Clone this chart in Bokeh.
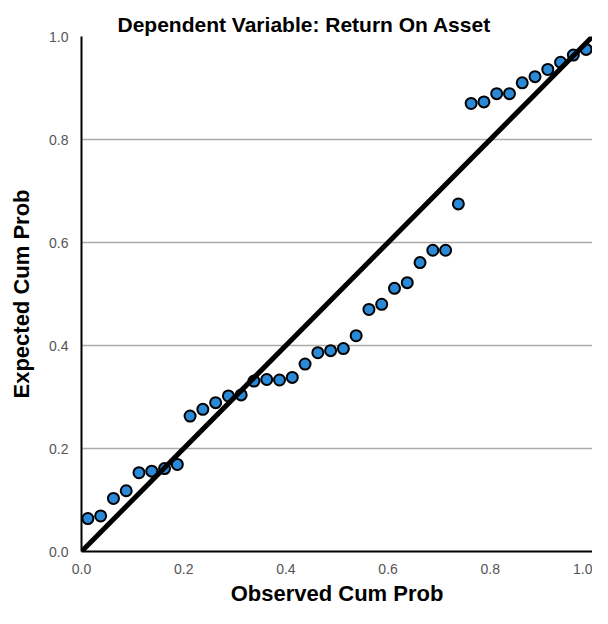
from bokeh.plotting import figure
from bokeh.models import FixedTicker, PrintfTickFormatter, Range1d, ColumnDataSource
from bokeh.embed import file_html
from bokeh.resources import INLINE

title_text = "Dependent Variable: Return On Asset"
x_label = "Observed Cum Prob"
y_label = "Expected Cum Prob"
tick_values = [0.0, 0.2, 0.4, 0.6, 0.8, 1.0]

observed_cum_prob = [
    0.0125, 0.0375, 0.0625, 0.0875, 0.1125, 0.1375, 0.1625, 0.1875,
    0.2125, 0.2375, 0.2625, 0.2875, 0.3125, 0.3375, 0.3625, 0.3875,
    0.4125, 0.4375, 0.4625, 0.4875, 0.5125, 0.5375, 0.5625, 0.5875,
    0.6125, 0.6375, 0.6625, 0.6875, 0.7125, 0.7375, 0.7625, 0.7875,
    0.8125, 0.8375, 0.8625, 0.8875, 0.9125, 0.9375, 0.9625, 0.9875,
]
expected_cum_prob = [
    0.064, 0.069, 0.103, 0.118, 0.153, 0.156, 0.161, 0.169,
    0.263, 0.276, 0.289, 0.302, 0.304, 0.331, 0.334, 0.333,
    0.338, 0.364, 0.386, 0.390, 0.394, 0.419, 0.470, 0.480,
    0.511, 0.522, 0.561, 0.585, 0.585, 0.675, 0.870, 0.873,
    0.889, 0.889, 0.910, 0.922, 0.936, 0.950, 0.964, 0.975,
]
diag_x = [0.0, 1.0]
diag_y = [0.0, 1.0]

FONT = "Liberation Sans"

p = figure(
    width=592, height=608,
    x_range=Range1d(0, 1), y_range=Range1d(0, 1),
    output_backend="svg", toolbar_location=None,
    min_border_left=81, min_border_right=0,
    min_border_top=36, min_border_bottom=57,
    title=title_text,
)
p.outline_line_color = None
p.background_fill_color = "white"
p.border_fill_color = "white"

p.title.text_font = FONT
p.title.text_font_size = "21px"
p.title.text_font_style = "bold"
p.title.text_color = "black"
p.title.align = "left"
p.title.offset = 36
p.title.standoff = 2

for ax in (p.xaxis[0], p.yaxis[0]):
    ax.ticker = FixedTicker(ticks=tick_values)
    ax.formatter = PrintfTickFormatter(format="%.1f")
    ax.major_tick_line_color = None
    ax.minor_tick_line_color = None
    ax.axis_line_color = "black"
    ax.axis_line_width = 2
    ax.major_label_text_font = FONT
    ax.major_label_text_font_size = "14px"
    ax.major_label_text_color = "#555555"
    ax.axis_label_text_font = FONT
    ax.axis_label_text_font_size = "22px"
    ax.axis_label_text_font_style = "bold"
    ax.axis_label_text_color = "black"

p.xaxis.axis_label = x_label
p.yaxis.axis_label = y_label
p.xaxis.major_label_standoff = 6
p.yaxis.major_label_standoff = 7
p.xaxis.axis_label_standoff = 4
p.yaxis.axis_label_standoff = 12

p.xgrid.grid_line_color = None
p.ygrid.ticker = FixedTicker(ticks=[0.2, 0.4, 0.6, 0.8, 1.0])
p.ygrid.grid_line_color = "#aaaaaa"
p.ygrid.grid_line_width = 1.5

src = ColumnDataSource(dict(x=observed_cum_prob, y=expected_cum_prob))
p.scatter("x", "y", source=src, size=11, fill_color="#2b8ad8",
          line_color="black", line_width=2)
p.line(diag_x, diag_y, line_color="black", line_width=5, line_cap="round")

open("out.html", "w").write(file_html(p, INLINE))
